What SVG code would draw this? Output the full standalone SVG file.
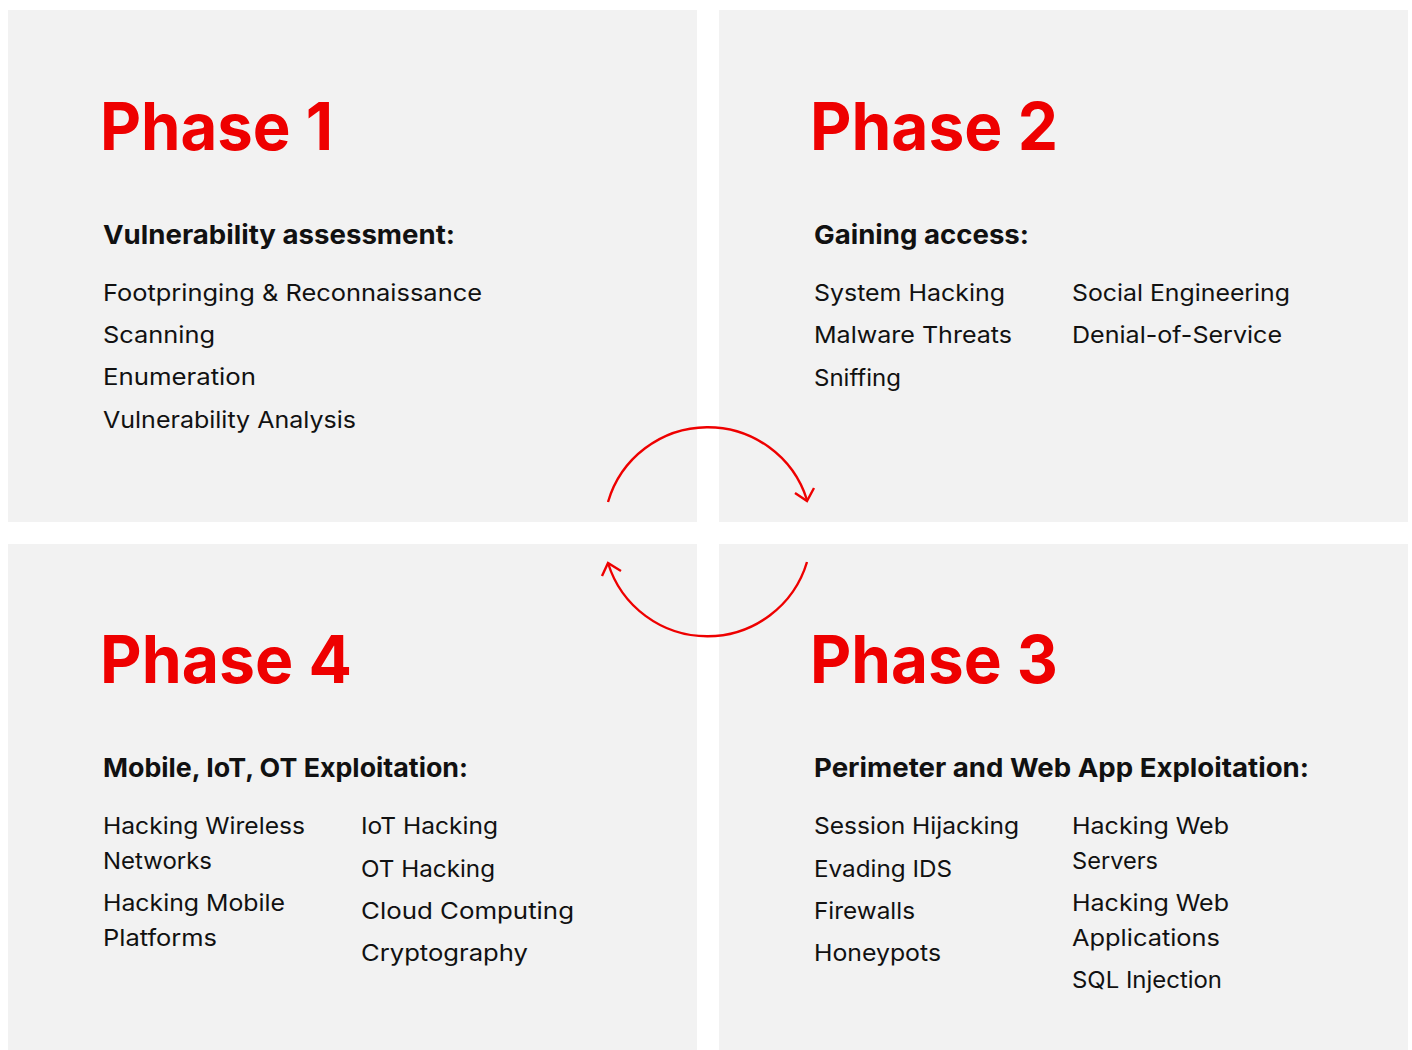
<svg xmlns="http://www.w3.org/2000/svg" width="1412" height="1050" viewBox="0 0 1412 1050">
<style>
.panel{fill:#f2f2f2}
.ph{font-family:Inter,"Liberation Sans",sans-serif;font-weight:700;font-size:66px;fill:#ee0000}
.hd{font-family:Inter,"Liberation Sans",sans-serif;font-weight:700;font-size:26px;fill:#111}
.it{font-family:Inter,"Liberation Sans",sans-serif;font-weight:400;font-size:23px;fill:#111}
.arc{fill:none;stroke:#ee0000;stroke-width:2.4}
</style>
<rect width="1412" height="1050" fill="#ffffff"/>
<g id="phase1">
<rect class="panel" x="8" y="10" width="689" height="512"/>
<text class="ph" x="100" y="150" textLength="233" lengthAdjust="spacingAndGlyphs">Phase 1</text>
<text class="hd" x="103" y="244" textLength="352" lengthAdjust="spacingAndGlyphs">Vulnerability assessment:</text>
<text class="it" x="103" y="301" textLength="379" lengthAdjust="spacingAndGlyphs">Footpringing &amp; Reconnaissance</text>
<text class="it" x="103" y="343" textLength="112" lengthAdjust="spacingAndGlyphs">Scanning</text>
<text class="it" x="103" y="385" textLength="153" lengthAdjust="spacingAndGlyphs">Enumeration</text>
<text class="it" x="103" y="428" textLength="253" lengthAdjust="spacingAndGlyphs">Vulnerability Analysis</text>
</g>
<g id="phase2">
<rect class="panel" x="719" y="10" width="689" height="512"/>
<text class="ph" x="810" y="150" textLength="248" lengthAdjust="spacingAndGlyphs">Phase 2</text>
<text class="hd" x="814" y="244" textLength="215" lengthAdjust="spacingAndGlyphs">Gaining access:</text>
<text class="it" x="814" y="301" textLength="191" lengthAdjust="spacingAndGlyphs">System Hacking</text>
<text class="it" x="814" y="343" textLength="198" lengthAdjust="spacingAndGlyphs">Malware Threats</text>
<text class="it" x="814" y="386" textLength="87" lengthAdjust="spacingAndGlyphs">Sniffing</text>
<text class="it" x="1072" y="301" textLength="218" lengthAdjust="spacingAndGlyphs">Social Engineering</text>
<text class="it" x="1072" y="343" textLength="210" lengthAdjust="spacingAndGlyphs">Denial-of-Service</text>
</g>
<g id="phase4">
<rect class="panel" x="8" y="544" width="689" height="506"/>
<text class="ph" x="100" y="683" textLength="252" lengthAdjust="spacingAndGlyphs">Phase 4</text>
<text class="hd" x="103" y="777" textLength="365" lengthAdjust="spacingAndGlyphs">Mobile, IoT, OT Exploitation:</text>
<text class="it" x="103" y="834" textLength="202" lengthAdjust="spacingAndGlyphs">Hacking Wireless</text>
<text class="it" x="103" y="869" textLength="109" lengthAdjust="spacingAndGlyphs">Networks</text>
<text class="it" x="103" y="911" textLength="182" lengthAdjust="spacingAndGlyphs">Hacking Mobile</text>
<text class="it" x="103" y="946" textLength="114" lengthAdjust="spacingAndGlyphs">Platforms</text>
<text class="it" x="361" y="834" textLength="137" lengthAdjust="spacingAndGlyphs">IoT Hacking</text>
<text class="it" x="361" y="877" textLength="134" lengthAdjust="spacingAndGlyphs">OT Hacking</text>
<text class="it" x="361" y="919" textLength="213" lengthAdjust="spacingAndGlyphs">Cloud Computing</text>
<text class="it" x="361" y="961" textLength="167" lengthAdjust="spacingAndGlyphs">Cryptography</text>
</g>
<g id="phase3">
<rect class="panel" x="719" y="544" width="689" height="506"/>
<text class="ph" x="810" y="683" textLength="248" lengthAdjust="spacingAndGlyphs">Phase 3</text>
<text class="hd" x="814" y="777" textLength="495" lengthAdjust="spacingAndGlyphs">Perimeter and Web App Exploitation:</text>
<text class="it" x="814" y="834" textLength="205" lengthAdjust="spacingAndGlyphs">Session Hijacking</text>
<text class="it" x="814" y="877" textLength="138" lengthAdjust="spacingAndGlyphs">Evading IDS</text>
<text class="it" x="814" y="919" textLength="101" lengthAdjust="spacingAndGlyphs">Firewalls</text>
<text class="it" x="814" y="961" textLength="127" lengthAdjust="spacingAndGlyphs">Honeypots</text>
<text class="it" x="1072" y="834" textLength="157" lengthAdjust="spacingAndGlyphs">Hacking Web</text>
<text class="it" x="1072" y="869" textLength="86" lengthAdjust="spacingAndGlyphs">Servers</text>
<text class="it" x="1072" y="911" textLength="157" lengthAdjust="spacingAndGlyphs">Hacking Web</text>
<text class="it" x="1072" y="946" textLength="148" lengthAdjust="spacingAndGlyphs">Applications</text>
<text class="it" x="1072" y="988" textLength="150" lengthAdjust="spacingAndGlyphs">SQL Injection</text>
</g>
<g id="connectors">
<path class="arc" d="M608,502 A104,104 0 0 1 807,500"/>
<polyline class="arc" points="795,493 807,501 814,488"/>
<path class="arc" d="M807,562 A104,104 0 0 1 608,563"/>
<polyline class="arc" points="602,576 608,563 621,571"/>
</g>
</svg>
